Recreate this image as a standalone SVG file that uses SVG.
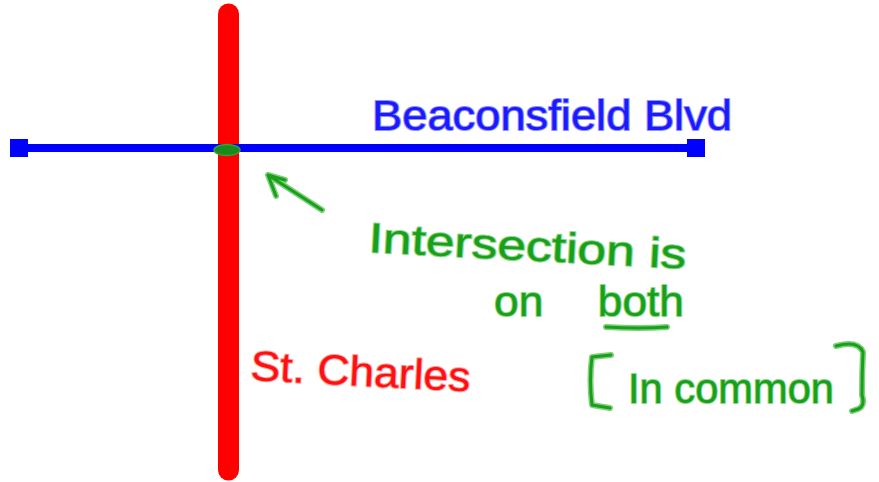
<svg xmlns="http://www.w3.org/2000/svg" width="879" height="482" viewBox="0 0 879 482">
<style>
.t{font-family:"Comic Sans MS","Liberation Sans",sans-serif;stroke-width:2;paint-order:stroke;stroke-linejoin:round}
.blue{fill:#1a1aff;stroke:#9090ff}
.red{fill:#ff1010;stroke:#ffa0a0}
.green{fill:#18a018;stroke:#90d890}
.gs{fill:none;stroke:#18a018;stroke-width:3;stroke-linecap:round;stroke-linejoin:round}
.gh{fill:none;stroke:#80d080;stroke-width:6;stroke-linecap:round;stroke-linejoin:round}
</style>
<rect width="879" height="482" fill="#fff"/>
<g id="st-charles-road">
<line x1="228.5" y1="14" x2="228.5" y2="470" stroke="#ff0000" stroke-width="21" stroke-linecap="round"/>
</g>
<g id="beaconsfield-road">
<line x1="19" y1="148" x2="696" y2="148" stroke="#0000ff" stroke-width="8"/>
<rect x="10" y="139" width="18" height="18" fill="#0000ff"/>
<rect x="687" y="139" width="18" height="18" fill="#0000ff"/>
</g>
<g id="intersection">
<ellipse cx="227" cy="150" rx="13" ry="5.5" fill="#1a8a1a" stroke="#3aa03a" stroke-width="1.5"/>
</g>
<g id="arrow">
<path class="gh" d="M322 210 L268 175 M285 180 L268 175 L276 196"/>
<path class="gs" d="M322 210 L268 175 M285 180 L268 175 L276 196"/>
</g>
<g id="labels">
<text class="t blue" x="372" y="130" font-size="42" textLength="360" lengthAdjust="spacingAndGlyphs">Beaconsfield Blvd</text>
<text class="t red" x="250" y="380" font-size="42" textLength="220" lengthAdjust="spacingAndGlyphs" transform="rotate(3 250 380)">St. Charles</text>
<text class="t green" x="368" y="252" font-size="42" textLength="318" lengthAdjust="spacingAndGlyphs" transform="rotate(3 368 252)">Intersection is</text>
<text class="t green" x="494" y="316" font-size="42" word-spacing="40" textLength="190" lengthAdjust="spacingAndGlyphs">on both</text>
<path class="gh" d="M606 327 Q640 329 667 327"/>
<path class="gs" d="M606 327 Q640 329 667 327"/>
<path class="gh" d="M611 355 L592 357 Q589 380 592 405 L610 408"/>
<path class="gs" d="M611 355 L592 357 Q589 380 592 405 L610 408"/>
<text class="t green" x="628" y="403" font-size="42" textLength="206" lengthAdjust="spacingAndGlyphs">In common</text>
<path class="gh" d="M836 346 Q858 340 863 352 Q862 372 862 395 Q866 408 855 410 L852 411"/>
<path class="gs" d="M836 346 Q858 340 863 352 Q862 372 862 395 Q866 408 855 410 L852 411"/>
</g>
</svg>
